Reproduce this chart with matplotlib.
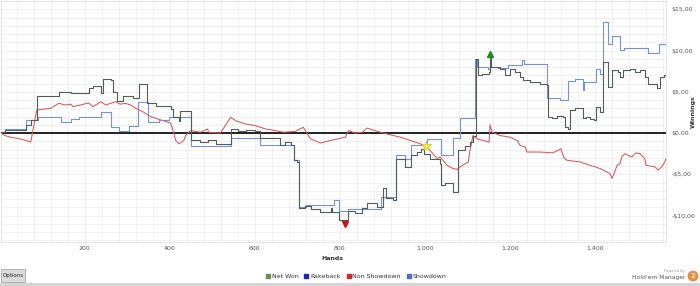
import matplotlib
matplotlib.use("Agg")
import matplotlib.pyplot as plt
from matplotlib.lines import Line2D
from matplotlib.patches import FancyBboxPatch, Rectangle

# hands / winnings (step points)
net_hands = [3, 12, 62, 73, 87, 139, 167, 209, 219, 238, 242, 261, 266, 276, 289, 313, 327, 346,
             367, 402, 407, 421, 425, 449, 472, 491, 508, 543, 560, 580, 600, 613, 660, 672, 684,
             691, 700, 705, 719, 731, 754, 778, 782, 799, 820, 836, 853, 864, 888, 902, 909, 926,
             933, 954, 968, 982, 991, 998, 1012, 1036, 1038, 1048, 1066, 1078, 1095, 1106, 1113,
             1120, 1125, 1135, 1150, 1153, 1156, 1177, 1189, 1200, 1212, 1224, 1231, 1247, 1271,
             1287, 1290, 1299, 1311, 1325, 1329, 1337, 1341, 1353, 1372, 1379, 1388, 1398, 1402,
             1412, 1419, 1430, 1440, 1454, 1459, 1466, 1482, 1494, 1506, 1517, 1524, 1546, 1552,
             1562, 1567]
net_won = [0.1, 0.4, 1.0, 1.6, 4.5, 5.0, 4.8, 5.4, 5.7, 4.9, 6.5, 6.4, 5.0, 3.9, 4.5, 4.3, 6.0, 3.7,
           3.3, 2.9, 1.9, 1.5, 2.7, -0.9, -1.1, -0.9, -1.3, 0.5, 0.2, 0.4, 0.3, -0.6, -1.5, -1.1, -1.5,
           -3.3, -3.5, -9.1, -8.8, -9.2, -9.6, -9.1, -9.6, -10.5, -9.5, -9.7, -9.1, -8.5, -8.9, -6.7,
           -7.9, -8.1, -3.1, -4.1, -2.7, -2.3, -1.9, -2.5, -3.1, -3.7, -6.3, -6.1, -7.1, -2.1, -1.6,
           -1.1, -0.3, 9.0, 7.0, 7.2, 7.4, 9.2, 8.0, 7.8, 7.0, 7.8, 7.4, 6.8, 6.4, 6.2, 6.0,
           5.8, 2.0, 1.8, 2.1, 2.0, 0.7, 0.5, 2.8, 3.0, 1.8, 2.0, 1.7, 1.6, 3.2,
           2.6, 8.6, 5.6, 7.6, 7.4, 6.8, 7.6, 7.8, 7.4, 7.7, 6.8, 6.0, 5.4, 6.8,
           7.0, 7.6]

sd_hands = [3, 12, 62, 90, 144, 167, 186, 238, 261, 280, 303, 325, 348, 374, 397, 449, 543, 613,
            684, 691, 705, 721, 785, 797, 820, 897, 933, 954, 968, 1006, 1038, 1066, 1083, 1118,
            1123, 1148, 1153, 1172, 1196, 1229, 1233, 1287, 1318, 1337, 1353, 1372, 1374, 1402,
            1412, 1419, 1430, 1440, 1459, 1468, 1524, 1550, 1567]
showdown = [0.1, 0.5, 1.6, 1.9, 1.3, 1.7, 2.0, 2.6, 0.7, 0.2, 0.8, 3.8, 1.3, 1.6, 1.9, -1.6, -0.6, -1.5,
            -1.5, -3.3, -9.0, -8.7, -8.1, -9.5, -9.2, -7.7, -2.6, -3.1, -1.4, -0.7, -2.7, -0.6, 1.8, 9.0,
            8.0, 7.8, 8.0, 7.9, 8.2, 8.9, 8.4, 4.2, 4.0, 6.3, 6.6, 5.2, 6.2, 7.8,
            7.2, 13.4, 10.8, 11.7, 10.1, 10.3, 9.7, 10.8, 10.8]

nsd_hands = [3, 12, 25, 47, 62, 73, 87, 120, 139, 155, 167, 172, 190, 209, 219, 238, 249, 273, 283,
             296, 308, 320, 336, 355, 378, 402, 407, 414, 421, 433, 437, 449, 472, 489, 491, 519,
             543, 555, 578, 601, 625, 648, 667, 695, 714, 721, 731, 754, 778, 813, 820, 836, 853,
             864, 876, 895, 918, 942, 966, 989, 1006, 1012, 1029, 1036, 1052, 1066, 1076, 1083,
             1095, 1102, 1106, 1113, 1123, 1137, 1151, 1153, 1158, 1177, 1200, 1217, 1224, 1236,
             1240, 1271, 1301, 1320, 1327, 1334, 1365, 1388, 1412, 1435, 1440, 1445, 1452, 1459,
             1463, 1470, 1487, 1496, 1506, 1517, 1520, 1541, 1548, 1557, 1564, 1567]
non_showdown = [0.0, -0.3, -0.5, -0.7, -0.9, -1.1, 2.8, 3.0, 3.6, 3.4, 3.5, 3.2, 3.4, 3.65, 3.2, 3.8,
                3.4, 3.8, 3.5, 3.6, 3.4, 3.0, 2.6, 2.0, 1.6, 1.2, 0.4, -0.9, -1.3, -0.9, -0.3, 0.3,
                0.1, 0.5, 0.1, 0.0, 1.9, 1.5, 1.1, 0.9, 0.5, 0.3, 0.1, 0.2, 0.7, 0.1, -0.7, -1.2,
                -0.9, -0.5, 0.3, 0.0, 0.1, 0.6, 0.4, 0.1, -0.2, -0.5, -0.9, -1.3, -1.7, -2.1, -3.1,
                -2.9, -3.9, -4.3, -4.4, -4.1, -3.7, -3.5, -2.1, -0.3, -0.7, -0.9, -1.1, 1.0, 0.1,
                -0.3, -0.5, -0.9, -1.5, -1.7, -2.3, -2.3, -2.4, -1.9, -3.0, -3.3, -3.5, -3.9, -4.3,
                -4.9, -5.5, -4.9, -3.9, -3.7, -2.9, -2.5, -2.9, -2.4, -2.5, -3.1, -3.9, -4.1, -4.5,
                -4.1, -3.5, -3.1]

# marked hands: best, worst, highlighted
best_hand, best_value = 1153, 9.6
worst_hand, worst_value = 812, -11.0
star_hand, star_value = 1002, -1.6

x_ticks = [200, 400, 600, 800, 1000, 1200, 1400]
x_tick_labels = ["200", "400", "600", "800", "1.000", "1.200", "1.400"]
y_ticks = [15, 10, 5, 0, -5, -10]
y_tick_labels = ["$15,00", "$10,00", "$5,00", "$0,00", "-$5,00", "-$10,00"]

legend_names = ["Net Won", "Rakeback", "Non Showdown", "Showdown"]
legend_colors = ["#6b8f4e", "#1f24a8", "#cc2a2a", "#4a6bd0"]

fig = plt.figure(figsize=(7, 2.86), dpi=100)
ax = fig.add_axes([1 / 700, 44 / 286, 665 / 700, 241 / 286])

ax.set_xlim(3, 1567)
ax.set_ylim(-13.2, 16.0)

# light grid every 40 hands / $1
ax.set_xticks(list(range(40, 1567, 40)), minor=True)
ax.set_yticks(list(range(-13, 17)), minor=True)
ax.grid(which="both", color="#ebebeb", linewidth=0.5)
ax.set_axisbelow(True)
ax.tick_params(which="both", length=0)

ax.set_xticks(x_ticks)
ax.set_xticklabels(x_tick_labels, fontsize=4.5, color="#555555")
ax.set_yticks(y_ticks)
ax.set_yticklabels(y_tick_labels, fontsize=4.5, color="#555555")
ax.yaxis.tick_right()
ax.tick_params(axis="x", pad=3)
ax.tick_params(axis="y", pad=4)
for s in ax.spines.values():
    s.set_color("#e0e0e0")
    s.set_linewidth(0.6)

ax.axhline(0, color="#111111", linewidth=1.3, zorder=2)

ax.plot(nsd_hands, non_showdown, color="#d9545a", linewidth=0.75, zorder=3)
ax.plot(sd_hands, showdown, color="#7592d8", linewidth=0.8, drawstyle="steps-post", zorder=3)
ax.plot(net_hands, net_won, color="#4f5f55", linewidth=0.8, drawstyle="steps-post", zorder=4)

ax.plot(best_hand, best_value, marker="^", color="#1a8a1a", markersize=4.5, zorder=5)
ax.plot(worst_hand, worst_value, marker="v", color="#cc1111", markersize=4.5, zorder=5)
ax.plot(star_hand, star_value, marker="*", color="#f7ec4a", markeredgecolor="#c9b300",
        markeredgewidth=0.4, markersize=7.5, zorder=5)

fig.text(332 / 700, 1 - 258 / 286, "Hands", fontsize=4.5, fontweight="bold",
         color="#333333", ha="center", va="center")
fig.text(693 / 700, 1 - 112 / 286, "Winnings", fontsize=4.5, fontweight="bold",
         color="#333333", rotation=90, ha="center", va="center")

handles = [Line2D([], [], marker="s", linestyle="none", markersize=2.3, color=c) for c in legend_colors]
fig.legend(handles, legend_names, loc="center", bbox_to_anchor=(356 / 700, 1 - 276 / 286),
           ncol=4, frameon=False, fontsize=4.5, handletextpad=0.2, columnspacing=0.9,
           handlelength=0.8, labelcolor="#333333")

# bottom strip, options button, logo
fig.patches.append(Rectangle((0, 0), 1, 3 / 286, transform=fig.transFigure,
                             facecolor="#d4d4d4", edgecolor="none"))
fig.patches.append(FancyBboxPatch((1 / 700, 4 / 286), 24 / 700, 13 / 286, transform=fig.transFigure,
                                  boxstyle="square,pad=0", facecolor="#dcdcdc",
                                  edgecolor="#9a9a9a", linewidth=0.5))
fig.text(13 / 700, 1 - 276 / 286, "Options", fontsize=4, color="#222222", ha="center", va="center")
fig.text(685 / 700, 1 - 271 / 286, "Powered by", fontsize=2.5, color="#999999", ha="right", va="center")
fig.text(685 / 700, 1 - 277 / 286, "Hold'em Manager", fontsize=4.3, color="#555555",
         ha="right", va="center")
fig.text(693 / 700, 1 - 276 / 286, "2", fontsize=5, color="white", fontweight="bold",
         ha="center", va="center",
         bbox=dict(boxstyle="circle,pad=0.35", facecolor="#f08a3c", edgecolor="none"))

fig.savefig("out.png", dpi=100)
